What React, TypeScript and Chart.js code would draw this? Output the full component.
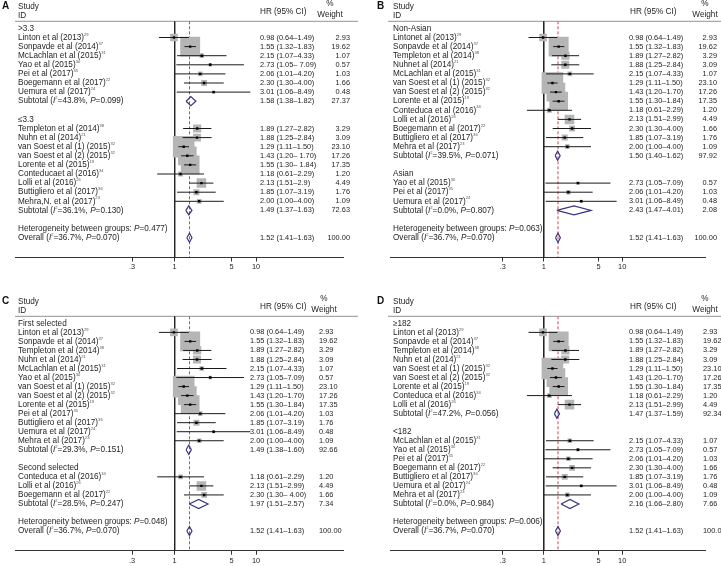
import React, { useEffect, useRef } from 'react';
import { Chart, registerables } from 'chart.js';

Chart.register(...registerables);

// ---------- axis ----------
const X_TICKS = [0.3, 1, 5, 10];
const X_TICK_LABELS = ['.3', '1', '5', '10'];

// ---------- Panel A (by cut-off) ----------
const A_ROWS = [
  '>3.3', 'Linton et al (2013)^29^', 'Sonpavde et al (2014)^37^', 'McLachlan et al (2015)^31^', 'Yao et al (2015)^30^',
  'Pei et al (2017)^35^', 'Boegemann et al (2017)^22^', 'Uemura et al (2017)^24^', 'Subtotal (*I*^2^=43.8%, *P*=0.099)', '',
  '≤3.3', 'Templeton et al (2014)^38^', 'Nuhn et al (2014)^21^', 'van Soest et al (1) (2015)^32^', 'van Soest et al (2) (2015)^32^',
  'Lorente et al (2015)^19^', 'Conteducaet al (2016)^34^', 'Lolli et al (2016)^26^', 'Buttigliero et al (2017)^36^', 'Mehra,N. et al (2017)^23^',
  'Subtotal (*I*^2^=36.1%, *P*=0.130)', '', 'Heterogeneity between groups: *P*=0.477)', 'Overall (*I*^2^=36.7%, *P*=0.070)',
];
const A_KIND = 'gsssssssdbgsssssssssdbho';
const A_HR = [null, 0.98, 1.55, 2.15, 2.73, 2.06, 2.30, 3.01, 1.58, null, null, 1.89, 1.88, 1.29, 1.43, 1.55, 1.18, 2.13, 1.85, 2.00, 1.49, null, null, 1.52];
const A_LO = [null, 0.64, 1.32, 1.07, 1.05, 1.01, 1.30, 1.06, 1.38, null, null, 1.27, 1.25, 1.11, 1.20, 1.30, 0.61, 1.51, 1.07, 1.00, 1.37, null, null, 1.41];
const A_HI = [null, 1.49, 1.83, 4.33, 7.09, 4.20, 4.00, 8.49, 1.82, null, null, 2.82, 2.84, 1.50, 1.70, 1.84, 2.29, 2.99, 3.19, 4.00, 1.63, null, null, 1.63];
const A_W = [null, 2.93, 19.62, 1.07, 0.57, 1.03, 1.66, 0.48, 27.37, null, null, 3.29, 3.09, 23.10, 17.26, 17.35, 1.20, 4.49, 1.76, 1.09, 72.63, null, null, 100.0];
const A_CI = [
  '', '0.98 (0.64–1.49)', '1.55 (1.32–1.83)', '2.15 (1.07–4.33)', '2.73 (1.05– 7.09)', '2.06 (1.01–4.20)', '2.30 (1.30–4.00)', '3.01 (1.06–8.49)', '1.58 (1.38–1.82)', '',
  '', '1.89 (1.27–2.82)', '1.88 (1.25–2.84)', '1.29 (1.11–1.50)', '1.43 (1.20– 1.70)', '1.55 (1.30– 1.84)', '1.18 (0.61–2.29)', '2.13 (1.51–2.9)', '1.85 (1.07–3.19)', '2.00 (1.00–4.00)',
  '1.49 (1.37–1.63)', '', '', '1.52 (1.41–1.63)',
];

// ---------- Panel B (ethnicity) ----------
const B_ROWS = [
  'Non-Asian', 'Lintonet al (2013)^29^', 'Sonpavde et al (2014)^37^', 'Templeton et al (2014)^38^', 'Nuhnet al (2014)^21^',
  'McLachlan et al (2015)^31^', 'van Soest et al (1) (2015)^32^', 'van Soest et al (2) (2015)^32^', 'Lorente et al (2015)^19^', 'Conteduca et al (2016)^34^',
  'Lolli et al (2016)^26^', 'Boegemann et al (2017)^22^', 'Buttigliero et al (2017)^36^', 'Mehra et al (2017)^23^', 'Subtotal (*I*^2^=39.5%, *P*=0.071)',
  '', 'Asian', 'Yao et al (2015)^30^', 'Pei et al (2017)^35^', 'Uemura et al (2017)^24^',
  'Subtotal (*I*^2^=0.0%, *P*=0.807)', '', 'Heterogeneity between groups: *P*=0.063)', 'Overall (*I*^2^=36.7%, *P*=0.070)',
];
const B_KIND = 'gsssssssssssssdbgsssdbho';
const B_HR = [null, 0.98, 1.55, 1.89, 1.88, 2.15, 1.29, 1.43, 1.55, 1.18, 2.13, 2.30, 1.85, 2.00, 1.50, null, null, 2.73, 2.06, 3.01, 2.43, null, null, 1.52];
const B_LO = [null, 0.64, 1.32, 1.27, 1.25, 1.07, 1.11, 1.20, 1.30, 0.61, 1.51, 1.30, 1.07, 1.00, 1.40, null, null, 1.05, 1.01, 1.06, 1.47, null, null, 1.41];
const B_HI = [null, 1.49, 1.83, 2.82, 2.84, 4.33, 1.50, 1.70, 1.84, 2.29, 2.99, 4.00, 3.19, 4.00, 1.62, null, null, 7.09, 4.20, 8.49, 4.01, null, null, 1.63];
const B_W = [null, 2.93, 19.62, 3.29, 3.09, 1.07, 23.10, 17.26, 17.35, 1.20, 4.49, 1.66, 1.76, 1.09, 97.92, null, null, 0.57, 1.03, 0.48, 2.08, null, null, 100.0];
const B_CI = [
  '', '0.98 (0.64–1.49)', '1.55 (1.32–1.83)', '1.89 (1.27–2.82)', '1.88 (1.25–2.84)', '2.15 (1.07–4.33)', '1.29 (1.11–1.50)', '1.43 (1.20–1.70)', '1.55 (1.30–1.84)', '1.18 (0.61–2.29)',
  '2.13 (1.51–2.99)', '2.30 (1.30–4.00)', '1.85 (1.07–3.19)', '2.00 (1.00–4.00)', '1.50 (1.40–1.62)', '', '', '2.73 (1.05–7.09)', '2.06 (1.01–4.20)', '3.01 (1.06–8.49)',
  '2.43 (1.47–4.01)', '', '', '1.52 (1.41–1.63)',
];

// ---------- Panel C (line of therapy) ----------
const C_ROWS = [
  'First selected', 'Linton et al (2013)^29^', 'Sonpavde et al (2014)^37^', 'Templeton et al (2014)^38^', 'Nuhn et al (2014)^21^',
  'McLachlan et al (2015)^31^', 'Yao et al (2015)^30^', 'van Soest et al (1) (2015)^32^', 'van Soest et al (2) (2015)^32^', 'Lorente et al (2015)^19^',
  'Pei et al (2017)^35^', 'Buttigliero et al (2017)^36^', 'Uemura et al (2017)^24^', 'Mehra et al (2017)^23^', 'Subtotal (*I*^2^=29.3%, *P*=0.151)',
  '', 'Second selected', 'Conteduca et al (2016)^34^', 'Lolli et al (2016)^26^', 'Boegemann et al (2017)^22^',
  'Subtotal (*I*^2^=28.5%, *P*=0.247)', '', 'Heterogeneity between groups: *P*=0.048)', 'Overall (*I*^2^=36.7%, *P*=0.070)',
];
const C_KIND = 'gsssssssssssssdbgsssdbho';
const C_HR = [null, 0.98, 1.55, 1.89, 1.88, 2.15, 2.73, 1.29, 1.43, 1.55, 2.06, 1.85, 3.01, 2.00, 1.49, null, null, 1.18, 2.13, 2.30, 1.97, null, null, 1.52];
const C_LO = [null, 0.64, 1.32, 1.27, 1.25, 1.07, 1.05, 1.11, 1.20, 1.30, 1.01, 1.07, 1.06, 1.00, 1.38, null, null, 0.61, 1.51, 1.30, 1.51, null, null, 1.41];
const C_HI = [null, 1.49, 1.83, 2.82, 2.84, 4.33, 7.09, 1.50, 1.70, 1.84, 4.20, 3.19, 8.49, 4.00, 1.60, null, null, 2.29, 2.99, 4.00, 2.57, null, null, 1.63];
const C_W = [null, 2.93, 19.62, 3.29, 3.09, 1.07, 0.57, 23.10, 17.26, 17.35, 1.03, 1.76, 0.48, 1.09, 92.66, null, null, 1.20, 4.49, 1.66, 7.34, null, null, 100.0];
const C_CI = [
  '', '0.98 (0.64–1.49)', '1.55 (1.32–1.83)', '1.89 (1.27–2.82)', '1.88 (1.25–2.84)', '2.15 (1.07–4.33)', '2.73 (1.05–7.09)', '1.29 (1.11–1.50)', '1.43 (1.20–1.70)', '1.55 (1.30–1.84)',
  '2.06 (1.01–4.20)', '1.85 (1.07–3.19)', '3.01 (1.06–8.49)', '2.00 (1.00–4.00)', '1.49 (1.38–1.60)', '', '', '1.18 (0.61–2.29)', '2.13 (1.51–2.99)', '2.30 (1.30– 4.00)',
  '1.97 (1.51–2.57)', '', '', '1.52 (1.41–1.63)',
];

// ---------- Panel D (sample size) ----------
const D_ROWS = [
  '≥182', 'Linton et al (2013)^29^', 'Sonpavde et al (2014)^37^', 'Templeton et al (2014)^38^', 'Nuhn et al (2014)^21^',
  'van Soest et al (1) (2015)^32^', 'van Soest et al (2) (2015)^32^', 'Lorente et al (2015)^19^', 'Conteduca et al (2016)^34^', 'Lolli et al (2016)^26^',
  'Subtotal (*I*^2^=47.2%, *P*=0.056)', '', '<182', 'McLachlan et al (2015)^31^', 'Yao et al (2015)^30^',
  'Pei et al (2017)^35^', 'Boegemann et al (2017)^22^', 'Buttigliero et al (2017)^36^', 'Uemura et al (2017)^24^', 'Mehra et al (2017)^23^',
  'Subtotal (*I*^2^=0.0%, *P*=0.984)', '', 'Heterogeneity between groups: *P*=0.006)', 'Overall (*I*^2^=36.7%, *P*=0.070)',
];
const D_KIND = 'gsssssssssdbgsssssssdbho';
const D_HR = [null, 0.98, 1.55, 1.89, 1.88, 1.29, 1.43, 1.55, 1.18, 2.13, 1.47, null, null, 2.15, 2.73, 2.06, 2.30, 1.85, 3.01, 2.00, 2.16, null, null, 1.52];
const D_LO = [null, 0.64, 1.32, 1.27, 1.25, 1.11, 1.20, 1.30, 0.61, 1.51, 1.37, null, null, 1.07, 1.05, 1.01, 1.30, 1.07, 1.06, 1.00, 1.66, null, null, 1.41];
const D_HI = [null, 1.49, 1.83, 2.82, 2.84, 1.50, 1.70, 1.84, 2.29, 2.99, 1.59, null, null, 4.33, 7.09, 4.20, 4.00, 3.19, 8.49, 4.00, 2.80, null, null, 1.63];
const D_W = [null, 2.93, 19.62, 3.29, 3.09, 23.10, 17.26, 17.35, 1.20, 4.49, 92.34, null, null, 1.07, 0.57, 1.03, 1.66, 1.76, 0.48, 1.09, 7.66, null, null, 100.0];
const D_CI = [
  '', '0.98 (0.64–1.49)', '1.55 (1.32–1.83)', '1.89 (1.27–2.82)', '1.88 (1.25–2.84)', '1.29 (1.11–1.50)', '1.43 (1.20–1.70)', '1.55 (1.30–1.84)', '1.18 (0.61–2.29)', '2.13 (1.51–2.99)',
  '1.47 (1.37–1.59)', '', '', '2.15 (1.07–4.33)', '2.73 (1.05–7.09)', '2.06 (1.01–4.20)', '2.30 (1.30–4.00)', '1.85 (1.07–3.19)', '3.01 (1.06–8.49)', '2.00 (1.00–4.00)',
  '2.16 (1.66–2.80)', '', '', '1.52 (1.41–1.63)',
];

// ---------- layout (pixels) ----------
const FONT = '"Liberation Sans", Arial, Helvetica, sans-serif';
const FS_LABEL = 8.2;
const FS_NUM = 7.4;
const V = { yTop: 21.3, yBottom: 257.5, row0: 28.4, rowH: 9.1, dec: 82 };

type Layout = {
  letter: string; left: number; top: number; width: number; height: number;
  plotL: number; plotR: number; p1: number; studyX: number; letterX: number;
  ciX: number; hrHdrX: number; wX: number; wAlign: 'left' | 'right'; pctX: number; lineL: number; lineR: number;
};

const LAYOUTS: Layout[] = [
  { letter: 'A', left: 0, top: 0, width: 360, height: 290, plotL: 13, plotR: 343, p1: 173.5, studyX: 18, letterX: 2, ciX: 260, hrHdrX: 260, wX: 350, wAlign: 'right', pctX: 330, lineL: 15, lineR: 358 },
  { letter: 'B', left: 360, top: 0, width: 361, height: 290, plotL: 30, plotR: 360, p1: 190.7, studyX: 33, letterX: 17, ciX: 269, hrHdrX: 270, wX: 357, wAlign: 'right', pctX: 345, lineL: 28, lineR: 361 },
  { letter: 'C', left: 0, top: 295, width: 360, height: 271, plotL: 13, plotR: 343, p1: 173.5, studyX: 18, letterX: 2, ciX: 250, hrHdrX: 260, wX: 319, wAlign: 'left', pctX: 324, lineL: 15, lineR: 358 },
  { letter: 'D', left: 360, top: 295, width: 361, height: 271, plotL: 30, plotR: 360, p1: 190.7, studyX: 33, letterX: 17, ciX: 269, hrHdrX: 270, wX: 343, wAlign: 'left', pctX: 345, lineL: 28, lineR: 361 },
];

type PanelData = { rows: string[]; kind: string; hr: (number | null)[]; lo: (number | null)[]; hi: (number | null)[]; w: (number | null)[]; ci: string[] };
const PANEL_DATA: PanelData[] = [
  { rows: A_ROWS, kind: A_KIND, hr: A_HR, lo: A_LO, hi: A_HI, w: A_W, ci: A_CI },
  { rows: B_ROWS, kind: B_KIND, hr: B_HR, lo: B_LO, hi: B_HI, w: B_W, ci: B_CI },
  { rows: C_ROWS, kind: C_KIND, hr: C_HR, lo: C_LO, hi: C_HI, w: C_W, ci: C_CI },
  { rows: D_ROWS, kind: D_KIND, hr: D_HR, lo: D_LO, hi: D_HI, w: D_W, ci: D_CI },
];

// ---------- rich text ----------
type Seg = { t: string; it: boolean; sup: boolean };
function parseRich(s: string): Seg[] {
  const out: Seg[] = [];
  const re = /\*([^*]+)\*|\^([^^]+)\^|([^*^]+)/g;
  let m: RegExpExecArray | null;
  while ((m = re.exec(s))) {
    if (m[1]) out.push({ t: m[1], it: true, sup: false });
    else if (m[2]) out.push({ t: m[2], it: false, sup: true });
    else out.push({ t: m[3], it: false, sup: false });
  }
  return out;
}
function drawRich(ctx: CanvasRenderingContext2D, s: string, x: number, y: number, size: number, align: 'left' | 'right' | 'center', color = '#1e1e1e') {
  const segs = parseRich(s);
  const fontOf = (g: Seg) => `${g.it ? 'italic ' : ''}${g.sup ? size * 0.5 : size}px ${FONT}`;
  let total = 0;
  for (const g of segs) { ctx.font = fontOf(g); total += ctx.measureText(g.t).width; }
  let cx = align === 'right' ? x - total : align === 'center' ? x - total / 2 : x;
  ctx.textBaseline = 'middle';
  ctx.textAlign = 'left';
  for (const g of segs) {
    ctx.font = fontOf(g);
    ctx.fillStyle = g.sup ? '#555' : color;
    ctx.fillText(g.t, cx, g.sup ? y - size * 0.36 : y);
    cx += ctx.measureText(g.t).width;
  }
}

function Panel({ layout, data }: { layout: Layout; data: PanelData }) {
  const ref = useRef<HTMLCanvasElement>(null);
  useEffect(() => {
    const L = layout;
    const d = data;
    const yMin = (V.yTop - V.row0) / V.rowH;
    const yMax = (V.yBottom - V.row0) / V.rowH;
    const xMin = Math.pow(10, (L.plotL - L.p1) / V.dec);
    const xMax = Math.pow(10, (L.plotR - L.p1) / V.dec);

    const squares: any[] = [];
    const sqR: number[] = [];
    const dots: any[] = [];
    const ci: any[] = [];
    const dia: any[] = [];
    for (let i = 0; i < d.rows.length; i++) {
      const k = d.kind[i];
      const hr = d.hr[i] as number, lo = d.lo[i] as number, hi = d.hi[i] as number;
      if (k === 's') {
        squares.push({ x: hr, y: i });
        sqR.push((4.5 * Math.sqrt(d.w[i] as number)) / Math.SQRT2);
        dots.push({ x: hr, y: i });
        ci.push({ x: lo, y: i }, { x: hi, y: i }, { x: hi, y: null });
      } else if (k === 'd' || k === 'o') {
        const h = 0.5;
        dia.push({ x: lo, y: i }, { x: hr, y: i - h }, { x: hi, y: i }, { x: hr, y: i + h }, { x: lo, y: i }, { x: lo, y: null });
      }
    }
    const ov = d.hr[d.kind.indexOf('o')] as number;

    const textPlugin = {
      id: 'forestText',
      beforeDatasetsDraw(chart: any) {
        const ctx = chart.ctx as CanvasRenderingContext2D;
        ctx.save();
        ctx.strokeStyle = '#a8a8a8';
        ctx.lineWidth = 1.2;
        ctx.beginPath();
        ctx.moveTo(L.lineL, V.yTop);
        ctx.lineTo(L.lineR, V.yTop);
        ctx.stroke();
        ctx.restore();
      },
      afterDraw(chart: any) {
        const ctx = chart.ctx as CanvasRenderingContext2D;
        const ys = chart.scales.y;
        ctx.save();
        ctx.font = `bold 10px ${FONT}`;
        ctx.fillStyle = '#111';
        ctx.textBaseline = 'middle';
        ctx.fillText(L.letter, L.letterX, 6);
        drawRich(ctx, 'Study', L.studyX, 6.5, FS_LABEL, 'left');
        drawRich(ctx, 'ID', L.studyX, 15.5, FS_LABEL, 'left');
        drawRich(ctx, 'HR (95% CI)', L.hrHdrX, 11.8, FS_LABEL, 'left');
        drawRich(ctx, '%', L.pctX, 3.8, FS_LABEL, 'center');
        drawRich(ctx, 'Weight', L.pctX, 15, FS_LABEL, 'center');
        for (let i = 0; i < d.rows.length; i++) {
          const y = ys.getPixelForValue(i);
          if (d.rows[i]) drawRich(ctx, d.rows[i], L.studyX, y, FS_LABEL, 'left');
          if (d.ci[i]) drawRich(ctx, d.ci[i], L.ciX, y, FS_NUM, 'left');
          const w = d.w[i];
          if (w != null) drawRich(ctx, (w as number).toFixed(2), L.wX, y, FS_NUM, L.wAlign);
        }
        ctx.restore();
      },
    };

    const chart = new Chart(ref.current as HTMLCanvasElement, {
      type: 'scatter',
      data: {
        datasets: [
          { data: [{ x: 1, y: yMin }, { x: 1, y: yMax }], showLine: true, borderColor: '#222', borderWidth: 1, pointRadius: 0, order: 7 } as any,
          { data: [{ x: ov, y: yMin }, { x: ov, y: yMax }], showLine: true, borderColor: '#c04a55', borderWidth: 1, borderDash: [3, 2], pointRadius: 0, order: 6 } as any,
          { data: squares, pointStyle: 'rect', pointRadius: sqR, backgroundColor: '#b5b5b5', borderWidth: 0, order: 5 } as any,
          { data: ci, showLine: true, spanGaps: false, borderColor: '#1a1a1a', borderWidth: 1, pointRadius: 0, order: 3 } as any,
          { data: dia, showLine: true, spanGaps: false, borderColor: '#3a3585', borderWidth: 1.2, pointRadius: 0, order: 2 } as any,
          { data: dots, pointStyle: 'rect', pointRadius: 1.7, backgroundColor: '#000', borderWidth: 0, order: 1 } as any,
        ],
      },
      options: {
        animation: false,
        responsive: false,
        devicePixelRatio: 1,
        events: [],
        layout: { padding: { left: L.plotL, right: L.width - L.plotR, top: V.yTop, bottom: 0 } },
        plugins: { legend: { display: false }, tooltip: { enabled: false } },
        scales: {
          x: {
            type: 'logarithmic',
            min: xMin,
            max: xMax,
            afterBuildTicks: (s: any) => { s.ticks = X_TICKS.map((v) => ({ value: v })); },
            afterFit: (s: any) => { s.height = L.height - V.yBottom; },
            ticks: {
              autoSkip: false,
              maxRotation: 0,
              padding: 1.5,
              color: '#1e1e1e',
              font: { family: FONT, size: FS_NUM },
              callback: (v: any) => { const i = X_TICKS.indexOf(Number(v)); return i >= 0 ? X_TICK_LABELS[i] : ''; },
            },
            grid: { drawOnChartArea: false, drawTicks: true, tickLength: 4, color: '#333', lineWidth: 1 },
            border: { display: true, color: '#333', width: 1 },
          } as any,
          y: { type: 'linear', reverse: true, min: yMin, max: yMax, display: false },
        },
      },
      plugins: [textPlugin],
    });
    return () => chart.destroy();
  }, []);
  return (
    <canvas
      ref={ref}
      width={layout.width}
      height={layout.height}
      style={{ position: 'absolute', left: layout.left, top: layout.top, width: layout.width, height: layout.height }}
    />
  );
}

export default function App() {
  return (
    <div style={{ position: 'absolute', left: 0, top: 0, width: 721, height: 566, background: '#fff', overflow: 'hidden' }}>
      {LAYOUTS.map((l, i) => (
        <Panel key={l.letter} layout={l} data={PANEL_DATA[i]} />
      ))}
    </div>
  );
}
